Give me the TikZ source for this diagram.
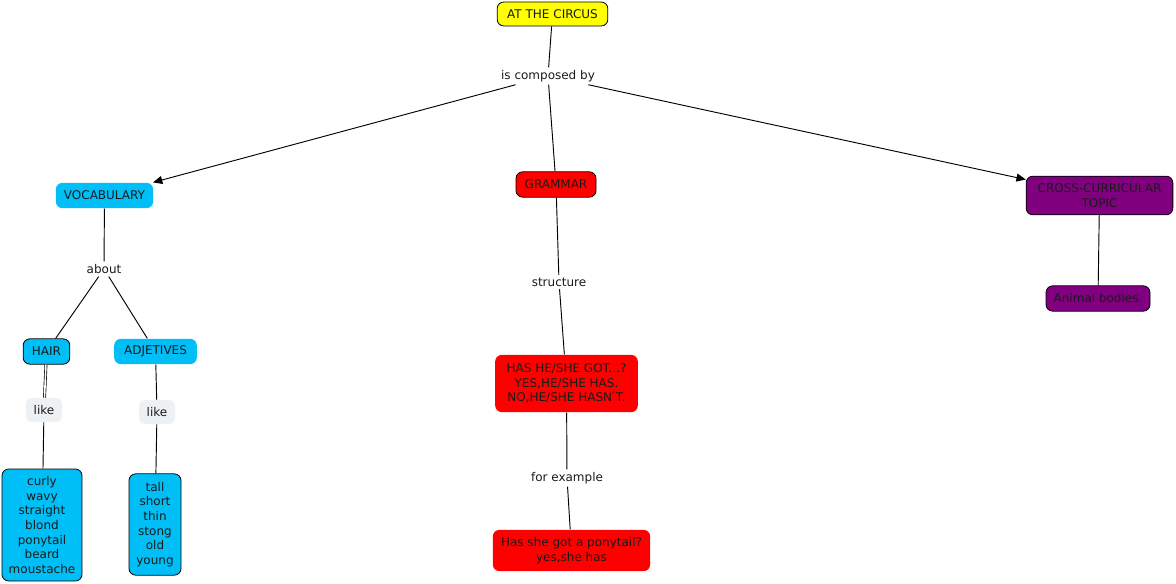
\documentclass[tikz,border=0pt]{standalone}
\usepackage{fontspec}
\setmainfont{DejaVu Sans}
\usetikzlibrary{arrows.meta, positioning}
\definecolor{cmapcyan}{HTML}{00BFF7}
\definecolor{cmapred}{HTML}{FF0000}
\definecolor{cmappurple}{HTML}{800080}
\definecolor{cmapyellow}{HTML}{FFFF00}
\definecolor{cmapgrey}{HTML}{EDF1F4}
\definecolor{cmaptext}{HTML}{1A1A1A}

\begin{document}
\begin{tikzpicture}[
  x=0.75pt, y=-0.75pt,
  every node/.style={font=\fontsize{9}{11}\selectfont, text=cmaptext, align=center, inner sep=1pt},
  concept/.style={rounded corners=5pt, line width=0.6pt},
  bluebox/.style={concept, fill=cmapcyan},
  redbox/.style={concept, fill=cmapred},
  purplebox/.style={concept, fill=cmappurple, draw=black},
  linkword/.style={fill=white, inner sep=2pt},
  likeword/.style={fill=cmapgrey, rounded corners=4pt, minimum width=27pt, minimum height=18pt},
  link/.style={line width=0.7pt, black},
  arrlink/.style={link, -{Triangle[length=7pt, width=6pt]}}
]
\useasboundingbox (0,0) rectangle (1176,584);

% Top concept and its linking phrase
\node[concept, fill=cmapyellow, draw=black, minimum width=83pt, minimum height=18pt] (circus) at (552.5,14) {AT THE CIRCUS};
\node[linkword] (composed) at (548,76) {is composed by};

% Three branches
\node[bluebox, minimum width=73pt, minimum height=19pt] (vocab) at (104.5,195.5) {VOCABULARY};
\node[redbox, draw=black, minimum width=60pt, minimum height=19pt] (grammar) at (556,184.5) {GRAMMAR};
\node[purplebox, minimum width=110pt, minimum height=29pt] (cross) at (1099.5,195.5) {CROSS-CURRICULAR\\ TOPIC};

% Vocabulary branch
\node[linkword] (about) at (104,269) {about};
\node[bluebox, draw=black, minimum width=35pt, minimum height=19pt] (hair) at (46.5,351.5) {HAIR};
\node[bluebox, minimum width=62pt, minimum height=19pt] (adj) at (155.5,351.5) {ADJETIVES};
\node[likeword] (likeA) at (44,410) {like};
\node[likeword] (likeB) at (157,412) {like};
\node[bluebox, draw=black, minimum width=60pt, minimum height=84pt] (hairlist) at (42,525) {curly\\ wavy\\ straight\\ blond\\ ponytail\\ beard\\ moustache};
\node[bluebox, draw=black, minimum width=39pt, minimum height=76pt] (adjlist) at (155,524.5) {tall\\ short\\ thin\\ stong\\ old\\ young};

% Grammar branch
\node[linkword] (structure) at (559,282) {structure};
\node[redbox, minimum width=107pt, minimum height=43pt] (question) at (566.5,383.5) {HAS HE/SHE GOT...?\\ YES,HE/SHE HAS.\\ NO,HE/SHE HASN\'{}T.};
\node[linkword] (example) at (567,478) {for example};
\node[redbox, minimum width=118pt, minimum height=31pt] (ponytail) at (571.5,550.5) {Has she got a ponytail?\\ yes,she has};

% Cross-curricular branch
\node[purplebox, minimum width=78pt, minimum height=19pt] (animal) at (1098,298.5) {Animal bodies.};

% Plain connectors
\foreach \a/\b in {circus/composed, composed/grammar, vocab/about, about/hair, about/adj,
                   likeA/hairlist, adj/likeB, likeB/adjlist, grammar/structure,
                   structure/question, question/example, example/ponytail, cross/animal}{
  \draw[link] (\a) -- (\b);
}

% Doubled line under HAIR
\draw[line width=0.5pt, double, double distance=1.2pt] (hair) -- (likeA);

% Arrows out of the linking phrase
\draw[arrlink] (composed) -- (vocab);
\draw[arrlink] (composed) -- (cross);

\end{tikzpicture}
\end{document}
